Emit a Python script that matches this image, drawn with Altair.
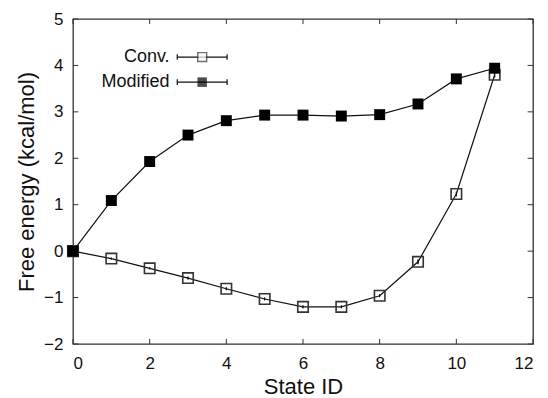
import altair as alt
import pandas as pd

state_id = list(range(12))
conv = [0.0, -0.16, -0.37, -0.58, -0.81, -1.03, -1.20, -1.20, -0.96, -0.23, 1.23, 3.80]
conv_err = [0.0, 0.02, 0.02, 0.03, 0.03, 0.03, 0.03, 0.03, 0.03, 0.05, 0.05, 0.06]
modified = [0.0, 1.09, 1.93, 2.50, 2.81, 2.93, 2.93, 2.91, 2.94, 3.17, 3.71, 3.94]
modified_err = [0.0, 0.02, 0.02, 0.03, 0.03, 0.03, 0.03, 0.03, 0.03, 0.04, 0.04, 0.05]

x_ticks = [0, 2, 4, 6, 8, 10, 12]
y_ticks = [-2, -1, 0, 1, 2, 3, 4, 5]
legend_labels = ["Conv.", "Modified"]

FONT = "Liberation Sans"
XMIN, XMAX, YMIN, YMAX = 0, 12, -2, 5

rows = []
for i, s in enumerate(state_id):
    rows.append({"s": s, "v": conv[i], "e": conv_err[i], "series": "Conv."})
    rows.append({"s": s, "v": modified[i], "e": modified_err[i], "series": "Modified"})
df = pd.DataFrame(rows)
df["lo"] = df["v"] - df["e"]
df["hi"] = df["v"] + df["e"]

xs = alt.Scale(domain=[XMIN, XMAX], nice=False)
ys = alt.Scale(domain=[YMIN, YMAX], nice=False)

xax = alt.Axis(values=x_ticks, ticks=False, domain=False, grid=False, labelFontSize=17,
               labelFont=FONT, labelColor="#111", labelPadding=11, title="State ID",
               titleFont=FONT, titleFontSize=22, titleFontWeight="normal", titleColor="#111",
               titlePadding=5, format="d")
yax = alt.Axis(values=y_ticks, ticks=False, domain=False, grid=False, labelFontSize=17,
               labelFont=FONT, labelColor="#111", labelPadding=10, title="Free energy (kcal/mol)",
               titleFont=FONT, titleFontSize=22, titleFontWeight="normal", titleColor="#111",
               titlePadding=5, format="d")

base = alt.Chart(df)
line = base.mark_line(color="#111", strokeWidth=1.2).encode(
    x=alt.X("s:Q", scale=xs, axis=xax),
    y=alt.Y("v:Q", scale=ys, axis=yax),
    detail="series:N",
)
err = base.mark_rule(color="#111", strokeWidth=1).encode(
    x="s:Q", y="lo:Q", y2="hi:Q"
)
pts_conv = base.transform_filter(alt.datum.series == "Conv.").mark_square(
    size=110, filled=True, fill="white", fillOpacity=0, stroke="#333", strokeWidth=1.6, opacity=1
).encode(x="s:Q", y="v:Q")
pts_mod = base.transform_filter(alt.datum.series == "Modified").mark_square(
    size=120, filled=True, color="black", opacity=1
).encode(x="s:Q", y="v:Q")
err_c = base.transform_filter(alt.datum.series == "Conv.").mark_rule(color="#111", strokeWidth=1).encode(
    x="s:Q", y="lo:Q", y2="hi:Q"
)

# inward ticks on all four sides
tx = pd.DataFrame({"t": x_ticks})
ty = pd.DataFrame({"t": y_ticks})
tl = 0.11
ticks_b = alt.Chart(tx).mark_rule(color="#333").encode(x="t:Q", y=alt.datum(YMIN), y2=alt.datum(YMIN + tl))
ticks_t = alt.Chart(tx).mark_rule(color="#333").encode(x="t:Q", y=alt.datum(YMAX), y2=alt.datum(YMAX - tl))
txl = 0.14
ticks_l = alt.Chart(ty).mark_rule(color="#333").encode(y="t:Q", x=alt.datum(XMIN), x2=alt.datum(XMIN + txl))
ticks_r = alt.Chart(ty).mark_rule(color="#333").encode(y="t:Q", x=alt.datum(XMAX), x2=alt.datum(XMAX - txl))

# legend (data coordinates)
leg = pd.DataFrame({
    "label": legend_labels,
    "ly": [4.18, 3.64],
    "tx": [2.52, 2.52],
    "x1": [2.72, 2.72],
    "x2": [4.02, 4.02],
    "xm": [3.37, 3.37],
})
leg["cap_lo"] = leg["ly"] - 0.06
leg["cap_hi"] = leg["ly"] + 0.06
leg_text = alt.Chart(leg).mark_text(align="right", baseline="middle", font=FONT, fontSize=18, color="#111").encode(
    x="tx:Q", y="ly:Q", text="label:N")
leg_line = alt.Chart(leg).mark_rule(color="#111", strokeWidth=1.2).encode(x="x1:Q", x2="x2:Q", y="ly:Q")
leg_cap1 = alt.Chart(leg).mark_rule(color="#111", strokeWidth=1.2).encode(x="x1:Q", y="cap_lo:Q", y2="cap_hi:Q")
leg_cap2 = alt.Chart(leg).mark_rule(color="#111", strokeWidth=1.2).encode(x="x2:Q", y="cap_lo:Q", y2="cap_hi:Q")
leg_sq_c = alt.Chart(leg).transform_filter(alt.datum.label == "Conv.").mark_square(
    size=80, filled=True, fill="white", stroke="#333", strokeWidth=1.4).encode(x="xm:Q", y="ly:Q")
leg_sq_m = alt.Chart(leg).transform_filter(alt.datum.label == "Modified").mark_square(
    size=90, filled=True, color="black").encode(x="xm:Q", y="ly:Q")

chart = alt.layer(
    line, ticks_b, ticks_t, ticks_l, ticks_r, err,
    pts_conv, err_c, pts_mod,
    leg_line, leg_cap1, leg_cap2, leg_sq_c, leg_sq_m, leg_text,
).properties(
    width=460, height=325,
    autosize=alt.AutoSizeParams(type="none"),
    padding={"left": 65, "top": 11, "right": 7, "bottom": 54},
    background="white",
).configure_view(stroke="#333", strokeWidth=1.3)

chart.save("out.html", embed_options={"renderer": "svg", "actions": False})
